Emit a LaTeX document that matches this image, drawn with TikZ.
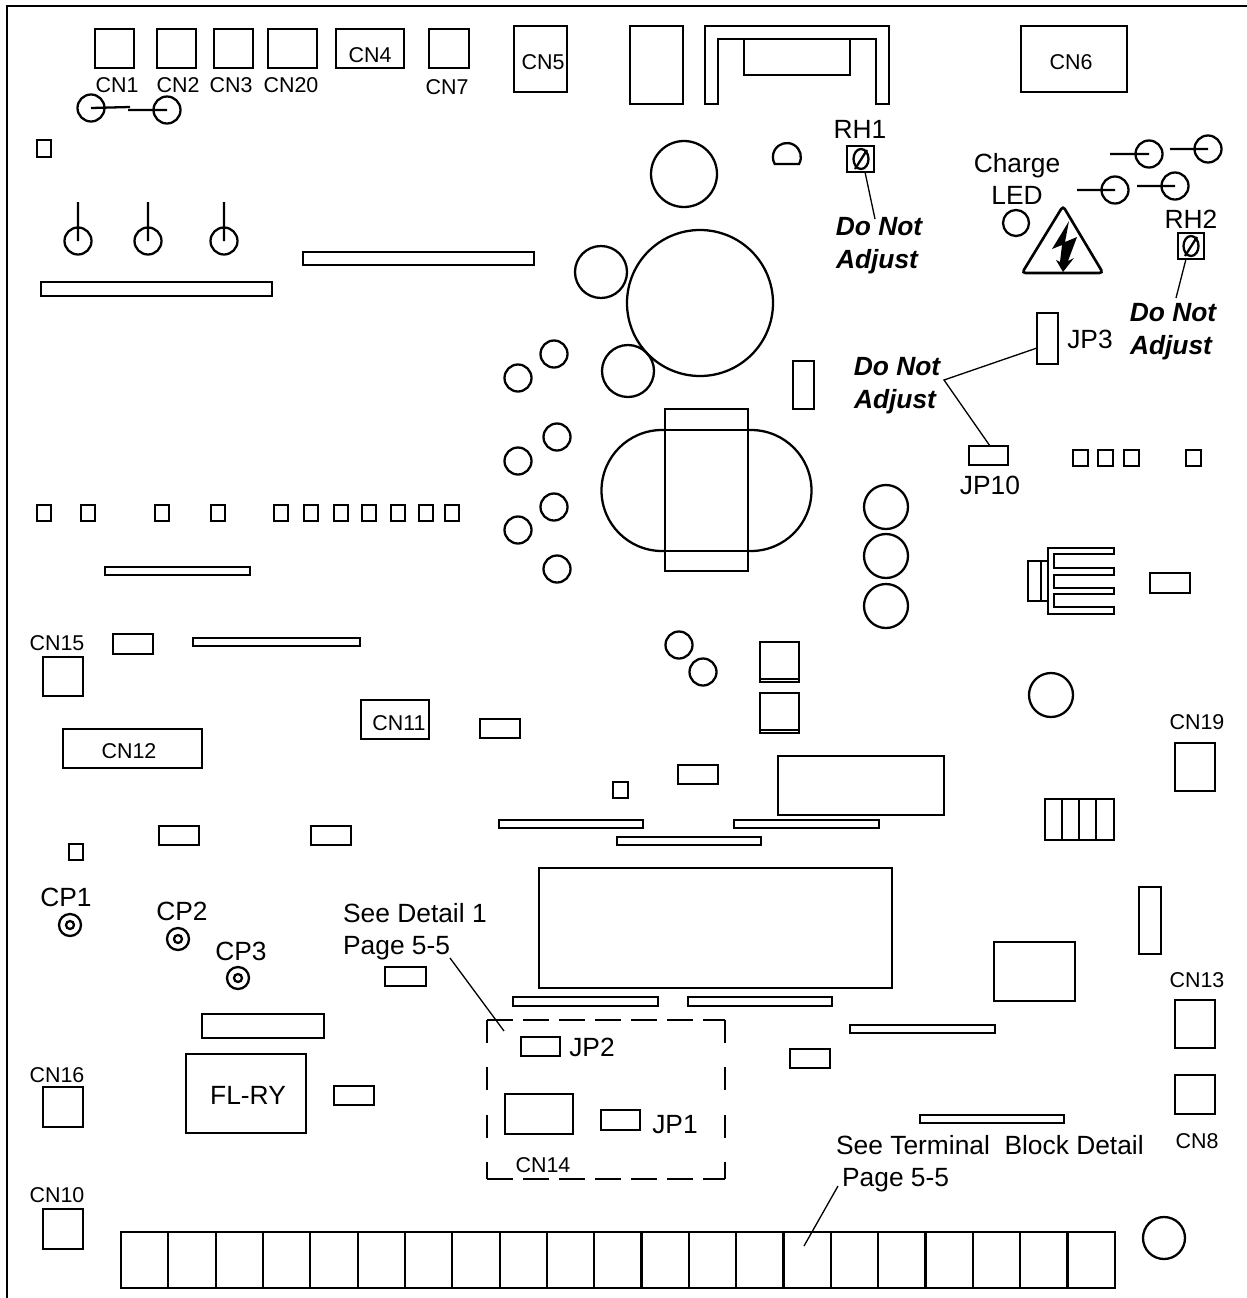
\documentclass[tikz,border=0pt]{standalone}
\usepackage{fontspec}
\setmainfont{Liberation Sans}

\tikzset{
  part/.style={line width=1.3pt},
  thin lead/.style={line width=0.75pt},
  small txt/.style={inner sep=0pt, font=\fontsize{12.2}{14}\selectfont},
  big txt/.style={inner sep=0pt, font=\fontsize{15}{17}\selectfont},
  warn txt/.style={inner sep=0pt, font=\fontsize{15}{17}\selectfont\bfseries\itshape},
  hdash/.style={line width=1.3pt, dash pattern=on 15pt off 5.5pt},
  vdash/.style={line width=1.3pt, dash pattern=on 13pt off 14pt}
}

\begin{document}
\begin{tikzpicture}[x=0.02cm, y=-0.02cm, part]
  \useasboundingbox (0,0) rectangle (1247,1298);

  \draw[line width=1.5pt] (7,1298) -- (7,6) -- (1247,6);

  % boxes
  \foreach \xa/\ya/\xb/\yb in {
      95/29/134/68, 157/29/196/68, 214/29/253/68, 268/29/317/68,
      336/29/404/68, 429/29/469/68, 514/26/567/92, 630/26/683/104,
      744/39/850/75, 1021/26/1127/92,
      37/140/51/157, 41/282/272/296, 303/252/534/265,
      793/361/814/409, 1150/573/1190/593,
      1037/313/1058/364, 969/446/1008/465,
      105/567/250/575, 43/657/83/696, 113/634/153/654, 193/638/360/646,
      63/729/202/768, 361/700/429/739, 480/719/520/738,
      1175/743/1215/791, 678/765/718/784, 613/782/628/798, 778/756/944/815,
      499/820/643/828, 734/820/879/828, 617/837/761/845,
      159/826/199/845, 311/826/351/845, 69/844/83/860,
      539/868/892/988, 385/967/426/986, 513/997/658/1006, 688/997/832/1006,
      202/1014/324/1038, 186/1054/306/1133, 334/1086/374/1105,
      521/1037/560/1056, 505/1094/573/1134, 601/1110/640/1130,
      850/1025/995/1033, 790/1049/830/1068, 994/942/1075/1001,
      1139/887/1161/954, 1175/1000/1215/1048, 1175/1075/1215/1114,
      920/1115/1064/1123, 43/1087/83/1127, 43/1209/83/1249,
      1028/561/1048/601}
    \draw (\xa,\ya) rectangle (\xb,\yb);

  % small squares
  \foreach \xa in {37, 81, 155, 211, 274, 304, 334, 362, 391, 419, 445}
    \draw (\xa,505) rectangle (\xa+14,521);
  \foreach \xa in {1073, 1098, 1124, 1186}
    \draw (\xa,450) rectangle (\xa+15,466);

  % plain circles
  \foreach \xa/\ya/\r in {
      684/174/33, 700/303/73, 601/272/26, 628/371/26,
      554/354/13.5, 518/378/13.5, 557/437/13.5, 518/461/13.5,
      554/507/13.5, 518/530/13.5, 557/569/13.5,
      886/507/22, 886/556/22, 886/606/22,
      679/645/13.5, 703/672/13.5, 1051/695/22, 1164/1238/21,
      1016/223/13}
    \draw (\xa,\ya) circle (\r);

  % wire loops
  \foreach \xa/\ya/\xb/\yb in {
      91/108/130/107, 167/110/128/110,
      1149/154/1110/154, 1208/149/1170/149,
      1115/190/1077/190, 1175/186/1137/186,
      78/241/78/202, 148/241/148/202, 224/241/224/202}
    \draw (\xa,\ya) circle (13.5) (\xa,\ya) -- (\xb,\yb);

  % test points
  \foreach \xa/\ya in {70/925, 178/939, 238/978} {
    \draw (\xa,\ya) circle (11);
    \draw (\xa,\ya) circle (4);
  }

  % top channel
  \draw (705,104) -- (705,26) -- (889,26) -- (889,104) -- (876,104)
    -- (876,39) -- (718,39) -- (718,104) -- cycle;

  % half round part
  \draw (799,164) arc (30:-210:14) -- cycle;

  % choke
  \draw (665,409) rectangle (748,571);
  \draw (665,430) -- (748,430);
  \draw (665,551) -- (748,551);
  \draw (665,430) -- (662,430) arc (270:90:60.5) -- (665,551);
  \draw (748,430) -- (751,430) arc (-90:90:60.5) -- (748,551);

  % heat sink
  \draw (1041,561) -- (1041,601);
  \draw (1048,548) -- (1114,548) -- (1114,554) -- (1054,554) -- (1054,568)
    -- (1114,568) -- (1114,575) -- (1054,575) -- (1054,588) -- (1114,588)
    -- (1114,594) -- (1054,594) -- (1054,607) -- (1114,607) -- (1114,614)
    -- (1048,614) -- cycle;

  % doubled edges
  \draw (760,642) rectangle (799,682);
  \draw (760,679) -- (799,679);
  \draw (760,693) rectangle (799,733);
  \draw (760,730) -- (799,730);

  % fins
  \draw (1045,799) rectangle (1114,840);
  \foreach \xa in {1062, 1079, 1096}
    \draw (\xa,799) -- (\xa,840);

  % warning sign
  \draw[rounded corners=2pt, line width=1.5pt] (1063,206) -- (1103,273) -- (1022,273) -- cycle;
  \fill (1069,221) -- (1052,249) -- (1062,245) -- (1060,262) -- (1056,260)
    -- (1063,272) -- (1074,258) -- (1068,261) -- (1077,237) -- (1065,242) -- cycle;

  % trim pots
  \draw (847,146) rectangle (874,172);
  \draw (861,159) ellipse (7.5 and 10);
  \draw (855,169) -- (867,150);
  \draw (1178,233) rectangle (1204,259);
  \draw (1191,246) ellipse (7.5 and 10);
  \draw (1185,256) -- (1197,237);

  % dashed area
  \draw[hdash] (487,1020) -- (725,1020);
  \draw[hdash] (487,1179) -- (725,1179);
  \draw[vdash] (487,1020) -- (487,1179);
  \draw[vdash] (725,1020) -- (725,1179);

  % terminal block
  \draw[line width=1.5pt] (121,1232) rectangle (1115,1288);
  \foreach \i in {1,...,20}
    \draw (121+47.33*\i,1232) -- (121+47.33*\i,1288);

  % labels
  \node[small txt] (cn1)  at ( 117,  85) {CN1};
  \node[small txt] (cn2)  at ( 178,  85) {CN2};
  \node[small txt] (cn3)  at ( 231,  85) {CN3};
  \node[small txt] (cn20) at ( 291,  85) {CN20};
  \node[small txt] (cn4)  at ( 370,  55) {CN4};
  \node[small txt] (cn7)  at ( 447,  87) {CN7};
  \node[small txt] (cn5)  at ( 543,  62) {CN5};
  \node[small txt] (cn6)  at (1071,  62) {CN6};
  \node[small txt] (cn15) at (  57, 643) {CN15};
  \node[small txt] (cn12) at ( 129, 751) {CN12};
  \node[small txt] (cn11) at ( 399, 723) {CN11};
  \node[small txt] (cn19) at (1197, 722) {CN19};
  \node[small txt] (cn13) at (1197, 980) {CN13};
  \node[small txt] (cn8)  at (1197,1141) {CN8};
  \node[small txt] (cn16) at (  57,1075) {CN16};
  \node[small txt] (cn10) at (  57,1195) {CN10};
  \node[small txt] (cn14) at ( 543,1165) {CN14};

  \node[big txt] (rh1)  at ( 860, 129) {RH1};
  \node[big txt] (rh2)  at (1191, 219) {RH2};
  \node[big txt] (chg)  at (1017, 166) {Charge};
  \node[big txt] (led)  at (1017, 195) {LED};
  \node[big txt] (jp3)  at (1090, 339) {JP3};
  \node[big txt] (jp10) at ( 990, 485) {JP10};
  \node[big txt] (jp2)  at ( 592,1047) {JP2};
  \node[big txt] (jp1)  at ( 675,1125) {JP1};
  \node[big txt] (cp1)  at (  66, 897) {CP1};
  \node[big txt] (cp2)  at ( 182, 911) {CP2};
  \node[big txt] (cp3)  at ( 241, 951) {CP3};
  \node[big txt] (flry) at ( 248,1095) {FL-RY};
  \node[big txt, anchor=west] (det1) at (342, 913) {See Detail 1};
  \node[big txt, anchor=west] (det2) at (342, 948) {Page 5-5};
  \node[big txt, anchor=west] (trm1) at (835,1145) {See Terminal\ \ Block Detail};
  \node[big txt, anchor=west] (trm2) at (841,1180) {Page 5-5};

  \node[warn txt] (dna1) at ( 879, 227) {Do Not};
  \node[warn txt] (adj1) at ( 877, 262) {Adjust};
  \node[warn txt] (dna2) at (1173, 313) {Do Not};
  \node[warn txt] (adj2) at (1171, 348) {Adjust};
  \node[warn txt] (dna3) at ( 897, 367) {Do Not};
  \node[warn txt] (adj3) at ( 895, 402) {Adjust};

  % leaders
  \coordinate (jp3a)  at (1037, 348);
  \coordinate (jp10a) at ( 990, 446);
  \coordinate (fork)  at ( 944, 380);
  \coordinate (rh1a)  at ( 865, 172);
  \coordinate (rh1b)  at ( 875, 219);
  \coordinate (rh2a)  at (1186, 259);
  \coordinate (rh2b)  at (1176, 298);
  \coordinate (det3)  at ( 450, 958);
  \coordinate (jpbox) at ( 504,1031);
  \coordinate (trm3)  at ( 838,1186);
  \coordinate (blk)   at ( 804,1246);

  \draw[thin lead] (jp3a) -- (fork) -- (jp10a);
  \draw[thin lead] (rh1a) -- (rh1b);
  \draw[thin lead] (rh2a) -- (rh2b);
  \draw[thin lead] (det3) -- (jpbox);
  \draw[thin lead] (trm3) -- (blk);
\end{tikzpicture}
\end{document}
